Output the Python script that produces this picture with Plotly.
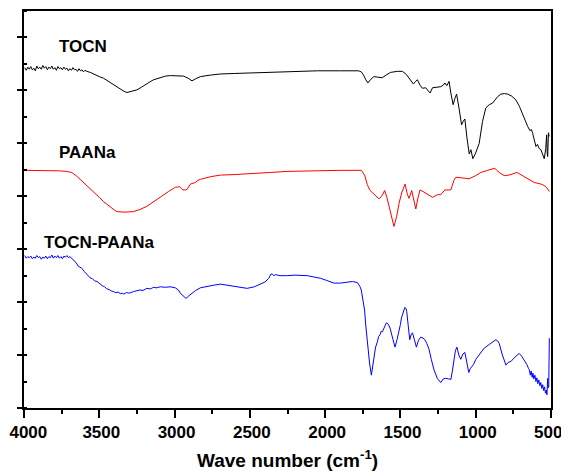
import plotly.graph_objects as go

# ---------------- data (wave number, cm-1 ; transmittance, a.u.) ----------------
tocn_wn = [3995, 3985, 3975, 3965, 3955, 3945, 3935, 3925, 3915, 3905, 3895, 3885, 3875, 3865,
           3855, 3845, 3835, 3825, 3815, 3805, 3795, 3785, 3775, 3765, 3755, 3745, 3735, 3725,
           3715, 3705, 3695, 3685, 3675, 3665, 3655, 3645, 3635, 3625, 3615, 3605, 3595, 3583,
           3560, 3540, 3520, 3500, 3472, 3450, 3430, 3410, 3383, 3360, 3340, 3317, 3300, 3280,
           3250, 3220, 3200, 3170, 3140, 3100, 3060, 3028, 2980, 2940, 2910, 2884, 2860, 2829,
           2760, 2696, 2600, 2500, 2363, 2200, 2050, 1897, 1778, 1760, 1745, 1730, 1716, 1700,
           1676, 1650, 1620, 1590, 1565, 1520, 1487, 1460, 1440, 1414, 1400, 1387, 1370, 1354,
           1332, 1315, 1303, 1287, 1260, 1232, 1215, 1205, 1192, 1177, 1165, 1150, 1138, 1127,
           1110, 1094, 1082, 1072, 1058, 1043, 1032, 1019, 1000, 977, 955, 933, 910, 888, 855,
           833, 810, 788, 760, 733, 710, 688, 670, 655, 640, 630, 622, 610, 600, 590, 578, 567,
           555, 545, 535, 529, 525, 522, 517, 512]
tocn_t = [6.43, 6.38, 6.44, 6.40, 6.45, 6.39, 6.42, 6.37, 6.46, 6.41, 6.44, 6.40, 6.47, 6.42,
          6.45, 6.39, 6.44, 6.41, 6.46, 6.40, 6.43, 6.38, 6.45, 6.41, 6.43, 6.39, 6.44, 6.40,
          6.42, 6.37, 6.41, 6.38, 6.43, 6.39, 6.40, 6.36, 6.41, 6.37, 6.39, 6.35, 6.38, 6.36,
          6.34, 6.31, 6.28, 6.26, 6.23, 6.19, 6.15, 6.11, 6.07, 6.02, 5.99, 5.96, 5.97, 5.99,
          6.01, 6.06, 6.10, 6.15, 6.20, 6.24, 6.27, 6.28, 6.28, 6.27, 6.23, 6.18, 6.22, 6.26,
          6.29, 6.31, 6.32, 6.33, 6.35, 6.36, 6.37, 6.37, 6.37, 6.35, 6.29, 6.20, 6.14, 6.20,
          6.26, 6.25, 6.24, 6.30, 6.34, 6.36, 6.36, 6.30, 6.22, 6.12, 6.17, 6.20, 6.10, 6.04,
          6.05, 6.00, 5.95, 6.05, 6.06, 6.07, 6.10, 6.14, 6.09, 6.17, 5.95, 5.73, 5.85, 5.93,
          5.65, 5.35, 5.42, 5.46, 5.10, 4.80, 4.88, 4.71, 4.82, 5.00, 5.41, 5.67, 5.73, 5.76, 5.88,
          5.93, 5.94, 5.93, 5.89, 5.82, 5.70, 5.54, 5.42, 5.32, 5.24, 5.26, 5.19, 5.05, 4.94, 4.98, 4.90, 4.88,
          4.80, 4.71, 4.90, 5.16, 4.80, 4.75, 5.20, 5.13]

paana_wn = [3995, 3900, 3800, 3760, 3720, 3683, 3650, 3620, 3583, 3540, 3500, 3472, 3430, 3400,
            3383, 3330, 3273, 3230, 3184, 3140, 3095, 3040, 2995, 2967, 2955, 2944, 2925, 2917,
            2895, 2880, 2862, 2845, 2829, 2760, 2696, 2600, 2518, 2440, 2363, 2250, 2142, 2000,
            1897, 1800, 1760, 1738, 1720, 1702, 1670, 1642, 1620, 1605, 1590, 1576, 1560, 1543,
            1525, 1509, 1490, 1469, 1455, 1443, 1425, 1410, 1398, 1385, 1370, 1350, 1332, 1310,
            1287, 1254, 1232, 1205, 1165, 1145, 1132, 1099, 1044, 1000, 966, 921, 873, 860, 844,
            811, 778, 726, 700, 666, 640, 611, 580, 555, 530, 511]
paana_t = [4.49, 4.49, 4.49, 4.48, 4.47, 4.45, 4.38, 4.30, 4.22, 4.10, 3.98, 3.90, 3.80, 3.74,
           3.71, 3.70, 3.71, 3.75, 3.81, 3.90, 3.99, 4.09, 4.17, 4.18, 4.15, 4.12, 4.12, 4.13,
           4.23, 4.25, 4.26, 4.30, 4.32, 4.37, 4.40, 4.41, 4.42, 4.44, 4.45, 4.47, 4.48, 4.48,
           4.49, 4.49, 4.49, 4.40, 4.22, 4.11, 4.03, 3.95, 4.02, 4.11, 3.98, 3.81, 3.60, 3.43,
           3.62, 3.87, 4.08, 4.23, 4.05, 3.96, 4.11, 3.92, 3.76, 3.95, 4.12, 4.09, 4.06, 4.01,
           3.98, 4.03, 4.03, 4.12, 4.12, 4.30, 4.36, 4.35, 4.33, 4.39, 4.45, 4.49, 4.53, 4.49, 4.45,
           4.39, 4.40, 4.45, 4.41, 4.36, 4.31, 4.26, 4.24, 4.22, 4.17, 4.09]

mix_wn = [3995, 3985, 3975, 3965, 3955, 3945, 3935, 3925, 3915, 3905, 3895, 3885, 3875, 3865,
          3855, 3845, 3835, 3825, 3815, 3805, 3795, 3785, 3775, 3765, 3755, 3745, 3735, 3725,
          3715, 3705, 3695, 3685, 3672, 3655, 3640, 3625, 3616, 3600, 3590, 3575, 3561, 3545,
          3530, 3515, 3494, 3480, 3465, 3450, 3435, 3420, 3406, 3390, 3375, 3360, 3345, 3339,
          3320, 3300, 3273, 3250, 3230, 3210, 3184, 3160, 3140, 3120, 3095, 3060, 3030, 2995,
          2975, 2962, 2940, 2924, 2905, 2884, 2860, 2829, 2780, 2740, 2696, 2650, 2607, 2560,
          2518, 2470, 2430, 2400, 2374, 2360, 2352, 2340, 2330, 2300, 2252, 2200, 2119, 2080,
          2030, 1990, 1942, 1897, 1860, 1819, 1786, 1770, 1760, 1750, 1738, 1730, 1720, 1705,
          1693, 1685, 1676, 1665, 1653, 1645, 1636, 1628, 1620, 1605, 1593, 1580, 1569, 1550,
          1536, 1522, 1509, 1500, 1493, 1480, 1471, 1463, 1458, 1448, 1438, 1430, 1420, 1408,
          1394, 1380, 1365, 1350, 1338, 1325, 1310, 1295, 1277, 1255, 1240, 1232, 1215, 1199,
          1180, 1165, 1155, 1143, 1135, 1125, 1112, 1099, 1085, 1072, 1060, 1046, 1037, 1028,
          1015, 999, 970, 944, 910, 880, 866, 855, 844, 825, 810, 799, 785, 766, 740, 711, 695,
          678, 660, 650, 644, 637, 632, 625, 620, 614, 607, 600, 594, 588, 581, 574, 568, 561,
          555, 549, 543, 537, 531, 527, 524, 522, 519, 515, 511]
mix_t = [2.88, 2.83, 2.86, 2.84, 2.87, 2.82, 2.85, 2.83, 2.88, 2.84, 2.86, 2.81, 2.85, 2.83,
         2.87, 2.82, 2.86, 2.84, 2.89, 2.83, 2.87, 2.84, 2.88, 2.83, 2.86, 2.82, 2.87, 2.85,
         2.88, 2.84, 2.86, 2.83, 2.80, 2.75, 2.68, 2.66, 2.64, 2.58, 2.55, 2.51, 2.46, 2.44,
         2.40, 2.39, 2.34, 2.31, 2.29, 2.25, 2.24, 2.21, 2.20, 2.18, 2.19, 2.16, 2.17, 2.15,
         2.18, 2.17, 2.20, 2.21, 2.23, 2.22, 2.26, 2.25, 2.28, 2.27, 2.29, 2.28, 2.29, 2.27,
         2.23, 2.17, 2.11, 2.07, 2.12, 2.17, 2.22, 2.27, 2.29, 2.32, 2.34, 2.32, 2.29, 2.27,
         2.26, 2.29, 2.34, 2.38, 2.45, 2.53, 2.53, 2.50, 2.52, 2.50, 2.50, 2.51, 2.50, 2.48,
         2.45, 2.41, 2.36, 2.36, 2.38, 2.39, 2.37, 2.30, 2.23, 2.08, 1.85, 1.55, 1.22, 0.85,
         0.62, 0.75, 0.97, 1.15, 1.25, 1.35, 1.38, 1.45, 1.44, 1.55, 1.61, 1.58, 1.51, 1.30,
         1.15, 1.30, 1.44, 1.58, 1.70, 1.85, 1.90, 1.88, 1.82, 1.55, 1.29, 1.38, 1.42, 1.30,
         1.15, 1.28, 1.34, 1.32, 1.29, 1.22, 1.11, 0.92, 0.72, 0.56, 0.49, 0.48, 0.55, 0.56,
         0.55, 0.54, 0.70, 0.91, 1.08, 1.15, 1.00, 0.92, 1.02, 1.05, 0.88, 0.67, 0.74, 0.77,
         0.82, 0.92, 1.03, 1.13, 1.20, 1.26, 1.29, 1.27, 1.22, 1.02, 0.88, 0.81, 0.86, 0.88, 0.96, 1.03, 0.98,
         0.91, 0.82, 0.75, 0.72, 0.62, 0.70, 0.58, 0.66, 0.55, 0.62, 0.50, 0.57, 0.46, 0.53, 0.42, 0.48, 0.37,
         0.44, 0.33, 0.40, 0.28, 0.34, 0.25, 0.45, 0.56, 0.38, 0.40, 1.32]

series_names = ["TOCN", "PAANa", "TOCN-PAANa"]
series_colors = ["#000000", "#ff0000", "#0000ff"]
label_wn = [3780, 3780, 3880]
label_t = [6.82, 4.82, 3.12]

x_ticks = [4000, 3500, 3000, 2500, 2000, 1500, 1000, 500]
x_tick_text = ["&nbsp;4000", "3500", "3000", "2500", "2000", "1500", "1000", "500&nbsp;&nbsp;"]
y_major = [0, 1, 2, 3, 4, 5, 6, 7]
x_title = "Wave number (cm<sup>-1</sup>)"

FONT = "Liberation Sans, Arial, sans-serif"

fig = go.Figure()
for xs, ys, name, col in zip([tocn_wn, paana_wn, mix_wn], [tocn_t, paana_t, mix_t],
                             series_names, series_colors):
    fig.add_trace(go.Scatter(x=xs, y=ys, mode="lines", name=name,
                             line=dict(color=col, width=1), showlegend=False,
                             hoverinfo="skip"))

for name, xw, yt in zip(series_names, label_wn, label_t):
    fig.add_annotation(x=xw, y=yt, xref="x", yref="y", text="<b>%s</b>" % name,
                       showarrow=False, xanchor="left", yanchor="middle",
                       font=dict(family=FONT, size=17, color="black"))

# axis title as an annotation placed below the tick labels
fig.add_annotation(x=0.5, y=-0.128, xref="paper", yref="paper", text="<b>%s</b>" % x_title,
                   showarrow=False, xanchor="center", yanchor="middle",
                   font=dict(family=FONT, size=19, color="black"))

# page body has an 8px margin: figure is sized/offset to compensate
fig.update_layout(
    width=561, height=463,
    margin=dict(l=16, r=18, t=3, b=63, autoexpand=False),
    paper_bgcolor="white", plot_bgcolor="white",
    font=dict(family=FONT, color="black"),
    xaxis=dict(
        range=[4000, 500], autorange=False, tickvals=x_ticks, automargin=False,
        ticktext=["<b>%s</b>" % t for t in x_tick_text], ticklabeloverflow="allow",
        ticklabelshift=-2,
        tickfont=dict(family=FONT, size=17, color="black"),
        ticks="outside", ticklen=8, tickwidth=1.5, tickcolor="black",
        minor=dict(dtick=250, tick0=500, ticks="outside", ticklen=4, tickwidth=1.5, tickcolor="black"),
        showline=True, linewidth=2, linecolor="black", mirror=True,
        showgrid=False, zeroline=False,
    ),
    yaxis=dict(
        range=[0, 7.5], autorange=False, tickvals=y_major, showticklabels=False, automargin=False,
        ticks="outside", ticklen=5, tickwidth=1.5, tickcolor="black",
        minor=dict(dtick=0.5, tick0=0.5, ticks="inside", ticklen=3, tickwidth=1.5, tickcolor="black"),
        showline=True, linewidth=2, linecolor="black", mirror=True,
        showgrid=False, zeroline=False,
    ),
    xaxis2=dict(
        range=[4000, 500], autorange=False, overlaying="x", side="top", anchor="y", automargin=False,
        dtick=250, tick0=500, ticks="inside", ticklen=4, tickwidth=1.5, tickcolor="black",
        showticklabels=False, showline=False, showgrid=False, zeroline=False,
    ),
    yaxis2=dict(
        range=[0, 7.5], autorange=False, overlaying="y", side="right", anchor="x", automargin=False,
        dtick=0.5, tick0=0, ticks="inside", ticklen=4, tickwidth=1.5, tickcolor="black",
        showticklabels=False, showline=False, showgrid=False, zeroline=False,
    ),
)

fig.write_html("out.html")
